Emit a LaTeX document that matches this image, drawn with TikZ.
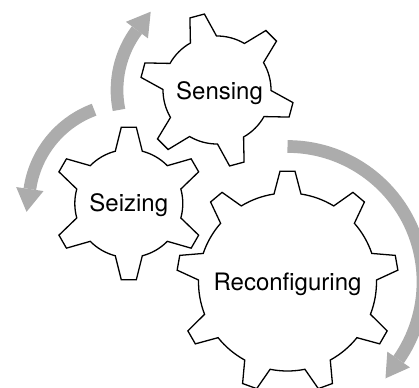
\documentclass[tikz,border=0pt]{standalone}
\usepackage{fontspec}
\setmainfont{TeX Gyre Heros}
\usetikzlibrary{calc}
\definecolor{arrowgray}{RGB}{172,172,172}
\tikzset{
  gearline/.style={draw=black, line width=1.3pt, fill=white, line join=miter},
  gearlabel/.style={font=\fontsize{24}{27}\selectfont, inner sep=0pt, anchor=base},
  turnarrow/.style={draw=arrowgray, line width=12.7pt},
  turnhead/.style={fill=arrowgray},
}
% gear outline: #1 centre, #2 teeth, #3 angle of first tooth, #4 tip radius, #5 root radius
\newcommand{\drawgear}[5]{%
  \pgfmathsetmacro{\gstep}{360/#2}%
  \pgfmathsetmacro{\gtip}{asin(7.5/#4)}%
  \pgfmathsetmacro{\groot}{asin(13.5/#5)}%
  \pgfmathtruncatemacro{\glast}{#2-1}%
  \begin{scope}[shift={(#1)}]
    \path[gearline] ({#3-\groot}:#5)
      \foreach \k in {0,...,\glast} {
        -- ({#3+\k*\gstep-\gtip}:#4) -- ({#3+\k*\gstep+\gtip}:#4)
        -- ({#3+\k*\gstep+\groot}:#5)
        arc[start angle={#3+\k*\gstep+\groot}, end angle={#3+(\k+1)*\gstep-\groot}, radius=#5]
      } -- cycle;
  \end{scope}
}
% circular arrow round a gear: #1 centre, #2 start angle, #3 end angle, #4 radius, #5 +90 (ccw) or -90 (cw)
\newcommand{\cyclearrow}[5]{%
  \draw[turnarrow] ([shift={({#2}:#4)}]#1) arc[start angle=#2, end angle=#3, radius=#4];
  \fill[turnhead] ($(#1)+({#3}:{#4-13.8})$) -- ($(#1)+({#3}:{#4+13.8})$)
    -- ($(#1)+({#3}:#4)+({#3+(#5)}:23)$) -- cycle;
}
\begin{document}
\begin{tikzpicture}[x=1pt,y=1pt]
  \useasboundingbox (0,0) rectangle (419,-387);
  \clip (0,0) rectangle (419,-387);

  \coordinate (sense)  at (217,-90);
  \coordinate (seize)  at (128.8,-203.5);
  \coordinate (reconf) at (287.5,-282);

  % gears
  \drawgear{reconf}{9}{90}{111}{89}
  \drawgear{seize}{6}{90}{76.7}{54}
  \drawgear{sense}{6}{45}{77}{54}

  % labels
  \node[gearlabel] (senselabel)  at (219.5,-100)  {Sensing};
  \node[gearlabel] (seizelabel)  at (128.8,-211)  {Seizing};
  \node[gearlabel] (reconflabel) at (287.5,-290.5) {Reconfiguring};

  % turning arrows
  \cyclearrow{sense}{191.5}{143.2}{100}{-90}
  \cyclearrow{seize}{110.3}{171.7}{100}{90}
  \cyclearrow{reconf}{90}{-34.9}{135.5}{-90}
\end{tikzpicture}
\end{document}
